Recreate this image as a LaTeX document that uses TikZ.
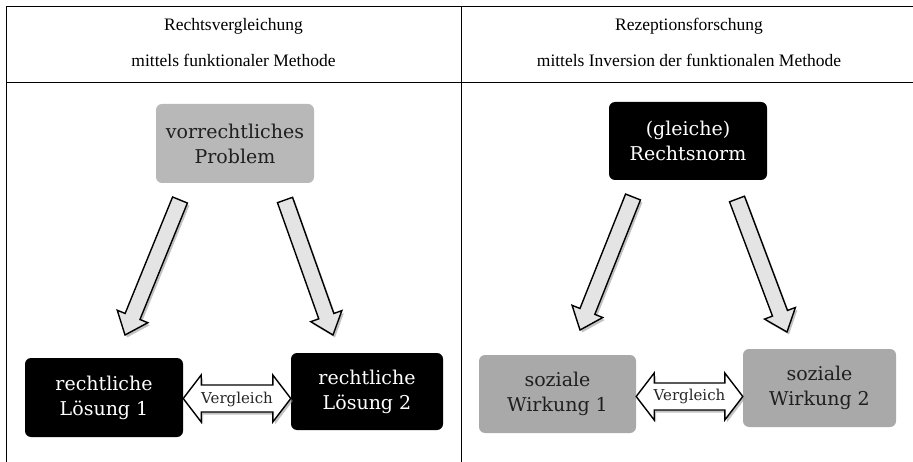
\documentclass[tikz,border=0pt]{standalone}
\usepackage{fontspec}
\setmainfont{Liberation Serif}
\newfontfamily\boxfont{DejaVu Serif}
\usetikzlibrary{calc}
\definecolor{boxgrayA}{HTML}{B8B8B8}
\definecolor{boxgrayB}{HTML}{A9A9A9}
\definecolor{arrowfill}{HTML}{E4E4E4}
\definecolor{shadowc}{HTML}{9A9A9A}

\newcommand{\blockarrow}[2]{%
  \coordinate (hA) at ($(#2)!20pt!(#1)$);
  \fill[shadowc, opacity=0.6] ($(#1)!8pt!90:(#2)+(2,2.5)$) -- ($(hA)!8pt!90:(#2)+(2,2.5)$) -- ($(hA)!16.5pt!90:(#2)+(2,2.5)$) -- ($(#2)+(2,2.5)$) -- ($(hA)!16.5pt!-90:(#2)+(2,2.5)$) -- ($(hA)!8pt!-90:(#2)+(2,2.5)$) -- ($(#1)!8pt!-90:(#2)+(2,2.5)$) -- cycle;
  \draw[arrowline, fill=arrowfill] ($(#1)!8pt!90:(#2)$) -- ($(hA)!8pt!90:(#2)$) -- ($(hA)!16.5pt!90:(#2)$) -- (#2) -- ($(hA)!16.5pt!-90:(#2)$) -- ($(hA)!8pt!-90:(#2)$) -- ($(#1)!8pt!-90:(#2)$) -- cycle;
}
\newcommand{\twowayarrow}[2]{%
  \coordinate (hB) at ($(#1)!18pt!(#2)$);
  \coordinate (hC) at ($(#2)!18pt!(#1)$);
  \fill[shadowc, opacity=0.6] ($(#1)+(2,2.5)$) -- ($(hB)!23.5pt!90:(#2)+(2,2.5)$) -- ($(hB)!13.5pt!90:(#2)+(2,2.5)$) -- ($(hC)!13.5pt!-90:(#1)+(2,2.5)$) -- ($(hC)!23.5pt!-90:(#1)+(2,2.5)$) -- ($(#2)+(2,2.5)$) -- ($(hC)!23.5pt!90:(#1)+(2,2.5)$) -- ($(hC)!13.5pt!90:(#1)+(2,2.5)$) -- ($(hB)!13.5pt!-90:(#2)+(2,2.5)$) -- ($(hB)!23.5pt!-90:(#2)+(2,2.5)$) -- cycle;
  \draw[arrowline, fill=white] (#1) -- ($(hB)!23.5pt!90:(#2)$) -- ($(hB)!13.5pt!90:(#2)$) -- ($(hC)!13.5pt!-90:(#1)$) -- ($(hC)!23.5pt!-90:(#1)$) -- (#2) -- ($(hC)!23.5pt!90:(#1)$) -- ($(hC)!13.5pt!90:(#1)$) -- ($(hB)!13.5pt!-90:(#2)$) -- ($(hB)!23.5pt!-90:(#2)$) -- cycle;
}

\begin{document}
\begin{tikzpicture}[x=1pt,y=-1pt,
  rule/.style={line width=1pt},
  hdr/.style={font=\fontsize{17.5}{20}\selectfont, anchor=base, inner sep=0pt},
  boxbase/.style={rounded corners=6pt, inner sep=0pt, align=center,
    font=\boxfont\fontsize{19}{25}\selectfont},
  darkbox/.style={boxbase, fill=black, text=white},
  lightbox/.style={boxbase, fill=boxgrayA, text=black!88},
  midbox/.style={boxbase, fill=boxgrayB, text=black!88},
  arrowline/.style={draw=black, line width=1.4pt, line join=miter},
  cmplabel/.style={font=\boxfont\fontsize{15}{18}\selectfont, inner sep=0pt, text=black!85}
]
\useasboundingbox (0,0) rectangle (913,462);

% table rules
\draw[rule] (6,7) -- (913,7);
\draw[rule] (6,83) -- (913,83);
\draw[rule] (6,7) -- (6,462);
\draw[rule] (461,7) -- (461,462);

% headers
\node[hdr] (h1) at (233.5,31) {Rechtsvergleichung};
\node[hdr] (h2) at (233.5,67) {mittels funktionaler Methode};
\node[hdr] (h3) at (689,31) {Rezeptionsforschung};
\node[hdr] (h4) at (689,67) {mittels Inversion der funktionalen Methode};

% left part
\node[lightbox, minimum width=158pt, minimum height=79pt] (prob) at (235,143.5) {vorrechtliches\\Problem};
\node[darkbox, minimum width=158pt, minimum height=79pt] (L1) at (104,397.5) {rechtliche\\Lösung 1};
\node[darkbox, minimum width=152pt, minimum height=77pt] (L2) at (367,391.5) {rechtliche\\Lösung 2};

\coordinate (a1s) at (180,200);
\coordinate (a1t) at (125,335);
\coordinate (a2s) at (285,200);
\coordinate (a2t) at (333,335);
\blockarrow{a1s}{a1t}
\blockarrow{a2s}{a2t}

\coordinate (v1a) at ($(L1.east)+(0,1)$);
\coordinate (v1b) at ($(L1.east -| L2.west)+(0,1)$);
\twowayarrow{v1a}{v1b}
\node[cmplabel] (c1) at ($(v1a)!0.5!(v1b)+(0,0.5)$) {Vergleich};

% right part
\node[darkbox, minimum width=158pt, minimum height=78pt] (norm) at (688,141) {(gleiche)\\Rechtsnorm};
\node[midbox, minimum width=157pt, minimum height=78pt] (W1) at (557.5,394) {soziale\\Wirkung 1};
\node[midbox, minimum width=153pt, minimum height=78pt] (W2) at (819.5,388) {soziale\\Wirkung 2};

\coordinate (a3s) at (633,197);
\coordinate (a3t) at (580,330);
\coordinate (a4s) at (737,199);
\coordinate (a4t) at (787,332);
\blockarrow{a3s}{a3t}
\blockarrow{a4s}{a4t}

\coordinate (v2a) at ($(W1.east)+(0,2.5)$);
\coordinate (v2b) at ($(W1.east -| W2.west)+(0,2.5)$);
\twowayarrow{v2a}{v2b}
\node[cmplabel] (c2) at ($(v2a)!0.5!(v2b)$) {Vergleich};
\end{tikzpicture}
\end{document}
